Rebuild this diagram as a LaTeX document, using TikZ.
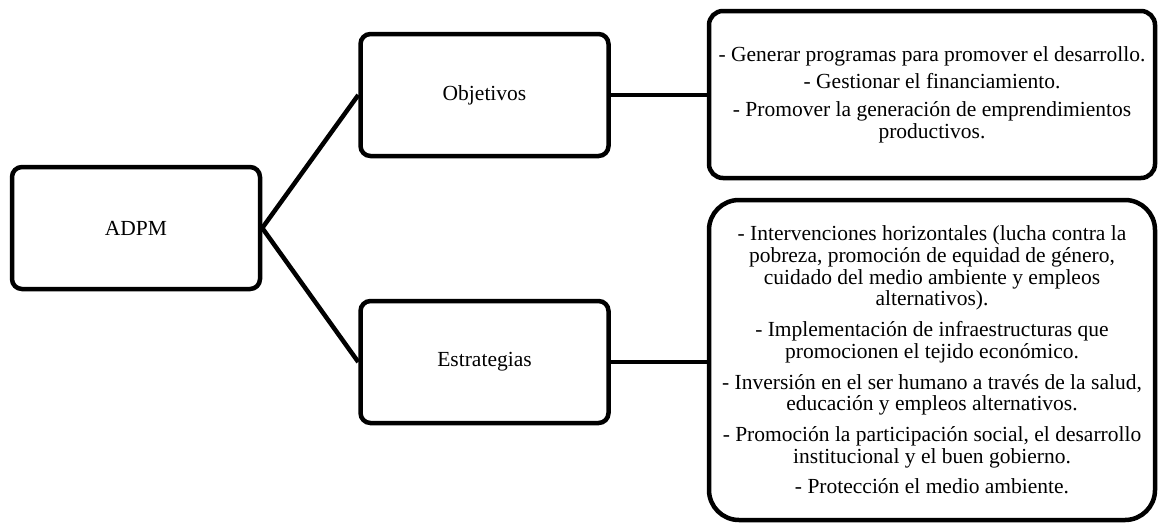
\documentclass[tikz,border=0pt]{standalone}
\usepackage{fontspec}
\setmainfont{Liberation Serif}
\begin{document}
\begin{tikzpicture}[x=1pt,y=-1pt,
  box/.style={draw, line width=4.5pt, fill=white, rounded corners=10pt,
    inner sep=0pt, align=center, font=\fontsize{21.5}{21.7}\selectfont},
  small/.style={box, minimum width=248pt, minimum height=122pt},
  link/.style={draw, line width=4.5pt}]
\useasboundingbox (0,0) rectangle (1158,525);

% the three small boxes
\node[small] (adpm) at (136,228) {ADPM};
\node[small] (obj) at (484.5,95) {Objetivos};
\node[small] (est) at (484.5,362) {Estrategias};

% detail boxes on the right
\node[box, rounded corners=14pt, minimum width=446pt, minimum height=167pt]
  (goals) at (932,94.5) {%
  - Generar programas para promover el desarrollo.\\[6pt]
  - Gestionar el financiamiento.\\[6pt]
  - Promover la generación de emprendimientos\\
  productivos.};

\node[box, rounded corners=30pt, minimum width=446pt, minimum height=320pt]
  (plans) at (932,360) {%
  - Intervenciones horizontales (lucha contra la\\
  pobreza, promoción de equidad de género,\\
  cuidado del medio ambiente y empleos\\
  alternativos).\\[9pt]
  - Implementación de infraestructuras que\\
  promocionen el tejido económico.\\[9pt]
  - Inversión en el ser humano a través de la salud,\\
  educación y empleos alternativos.\\[9pt]
  - Promoción la participación social, el desarrollo\\
  institucional y el buen gobierno.\\[9pt]
  - Protección el medio ambiente.};

% connectors
\draw[link] (adpm.east) -- (obj.west);
\draw[link] (adpm.east) -- (est.west);
\draw[link] (obj.east) -- (obj.east -| goals.west);
\draw[link] (est.east) -- (est.east -| plans.west);
\end{tikzpicture}
\end{document}
